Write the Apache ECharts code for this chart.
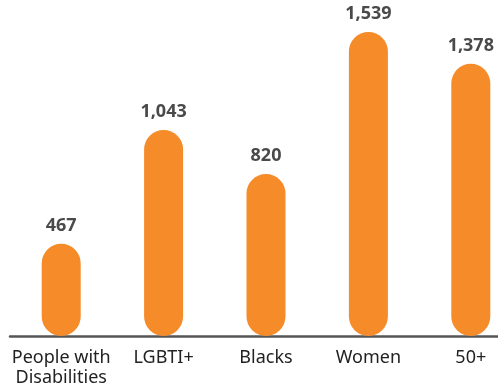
<!DOCTYPE html>
<html><head><meta charset="utf-8">
<script src="https://cdn.jsdelivr.net/npm/echarts@6/dist/echarts.min.js"></script>
<style>html,body{margin:0;padding:0;background:#fff}#c{width:498px;height:389px}</style>
</head><body><div id="c"></div>
<script>
const categories = ["People with\nDisabilities", "LGBTI+", "Blacks", "Women", "50+"];
const values = [467, 1043, 820, 1539, 1378];

const chart = echarts.init(document.getElementById('c'));
chart.setOption({
  animation: false,
  grid: { left: 10, right: -24, top: 20, bottom: 53, outerBoundsMode: 'none', containLabel: false },
  xAxis: {
    type: 'category',
    data: categories,
    axisLine: { show: true, lineStyle: { color: '#555', width: 2.5 } },
    axisTick: { show: false },
    axisLabel: { color: '#222', fontSize: 18, fontFamily: 'Noto Sans', margin: 12, lineHeight: 20, interval: 0, hideOverlap: false }
  },
  yAxis: { type: 'value', min: 0, max: 1600, show: false, splitLine: { show: false } },
  series: [{
    type: 'bar',
    data: values,
    barWidth: 39,
    itemStyle: { color: '#F68B2A', borderRadius: 20 },
    label: {
      show: true, position: 'top', distance: 9,
      color: '#4a4a4a', fontSize: 18, fontWeight: 'bold', fontFamily: 'Noto Sans',
      formatter: p => p.value.toLocaleString('en-US')
    }
  }]
});
</script></body></html>
